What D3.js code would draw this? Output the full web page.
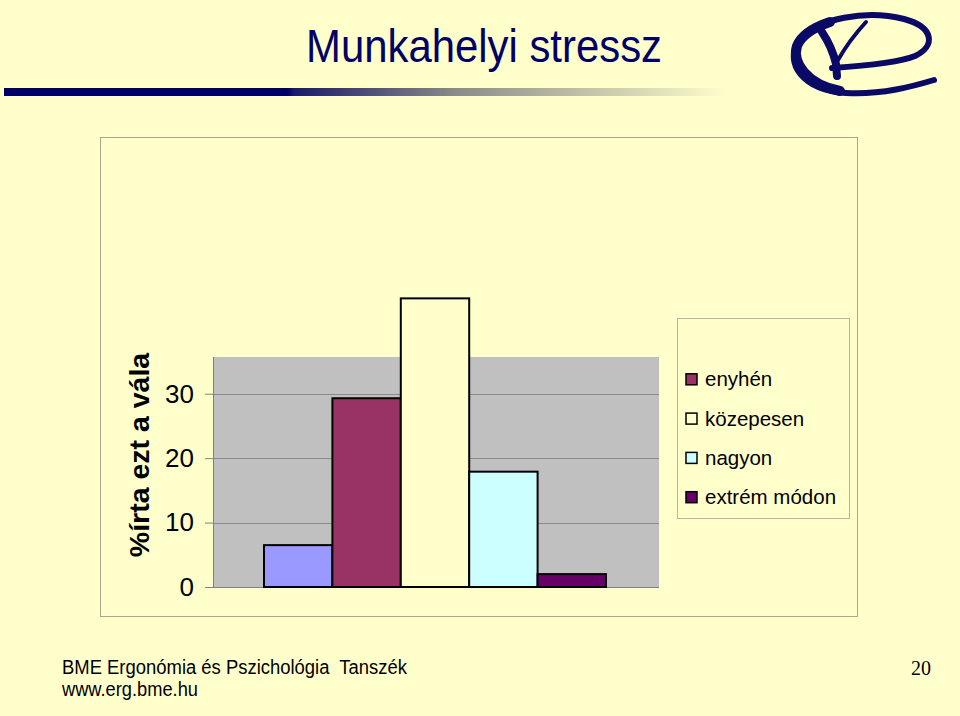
<!DOCTYPE html>
<html><head><meta charset="utf-8">
<script src="https://cdn.jsdelivr.net/npm/d3@7/dist/d3.min.js"></script>
<style>
html,body{margin:0;padding:0;background:#FFFFCC;}
svg{display:block;}
text{font-family:"Liberation Sans",Arial,sans-serif;}
</style></head>
<body>
<script>
// ---- data ----
const seriesNames = ["", "enyhén", "közepesen", "nagyon", "extrém módon"];
const seriesValues = [6.5, 29.3, 44.8, 17.9, 2.0];
const seriesColors = ["#9999FF", "#993366", "#FFFFCC", "#CCFFFF", "#660066"];
const yTicks = [0, 10, 20, 30];
const yMax = 35.7;
const titleText = "Munkahelyi stressz";
const yAxisTitle = "%írta ezt a vála";
const footer1 = "BME Ergonómia és Pszichológia  Tanszék";
const footer2 = "www.erg.bme.hu";
const pageNo = "20";

const W = 960, H = 716;
const svg = d3.select("body").append("svg").attr("width", W).attr("height", H);
svg.append("rect").attr("width", W).attr("height", H).attr("fill", "#FFFFCC");

// header gradient bar
const defs = svg.append("defs");
const grad = defs.append("linearGradient").attr("id", "hbar").attr("x1", "0").attr("x2", "1").attr("y1", "0").attr("y2", "0");
grad.append("stop").attr("offset", "0").attr("stop-color", "#000066");
grad.append("stop").attr("offset", "0.39").attr("stop-color", "#000066");
grad.append("stop").attr("offset", "0.40").attr("stop-color", "#1a1a6a");
grad.append("stop").attr("offset", "0.62").attr("stop-color", "#8a8a88");
grad.append("stop").attr("offset", "1").attr("stop-color", "#FFFFCC");
svg.append("rect").attr("x", 4).attr("y", 88).attr("width", 726).attr("height", 8).attr("fill", "url(#hbar)");

// title
svg.append("text").attr("x", 306).attr("y", 62).attr("font-size", 46)
  .attr("textLength", 356).attr("lengthAdjust", "spacingAndGlyphs")
  .attr("fill", "#000066").text(titleText);

// logo
const logo = svg.append("g").attr("fill", "none").attr("stroke", "#0a0a66").attr("stroke-linecap", "round");
logo.append("path").attr("stroke-width", 6)
  .attr("d", "M832,68 C862,66 898,63 915,56 C936,46 934,27 904,19 C868,10 816,17 798,42 C785,63 802,90 846,93 C882,95 914,86 934,80");
logo.append("path").attr("stroke-width", 10)
  .attr("d", "M830,22 C812,28 801,36 797,46 C792,62 806,84 840,91");
logo.append("path").attr("stroke-width", 8)
  .attr("d", "M822,32 C830,44 834,55 836,64 L837,76");
logo.append("path").attr("stroke-width", 4)
  .attr("d", "M866,22 C855,34 846,46 838,60");

// chart area border
svg.append("rect").attr("x", 100.5).attr("y", 137.5).attr("width", 757).attr("height", 479)
  .attr("fill", "none").attr("stroke", "#a8a890").attr("stroke-width", 1);

// plot area
const px0 = 213, px1 = 659, py0 = 357, py1 = 587;
const y = d3.scaleLinear().domain([0, yMax]).range([py1, py0]);
const x = d3.scaleBand().domain(seriesNames.map((d, i) => i)).range([264, 606]).padding(0);

svg.append("rect").attr("x", px0).attr("y", py0).attr("width", px1 - px0).attr("height", py1 - py0).attr("fill", "#C0C0C0");

// gridlines
svg.append("g").selectAll("line").data(yTicks.filter(d => d > 0)).join("line")
  .attr("x1", px0).attr("x2", px1).attr("y1", d => Math.round(y(d)) + 0.5).attr("y2", d => Math.round(y(d)) + 0.5)
  .attr("stroke", "#8a8a8a").attr("stroke-width", 1);

// y axis
const yAxis = d3.axisLeft(y).tickValues(yTicks).tickSize(8).tickPadding(11).tickFormat(d3.format("d"));
const ag = svg.append("g").attr("transform", `translate(${px0},0)`).call(yAxis);
ag.select(".domain").attr("stroke", "#808080").attr("d", `M0.5,${py0}V${py1}`);
ag.selectAll(".tick line").attr("stroke", "#808080");
ag.selectAll(".tick text").attr("font-size", 26).attr("font-family", "Liberation Sans, Arial, sans-serif").attr("fill", "#000");

// bottom axis line
svg.append("line").attr("x1", px0 - 8).attr("x2", px1).attr("y1", py1 + 0.5).attr("y2", py1 + 0.5)
  .attr("stroke", "#808080").attr("stroke-width", 1.2);

// bars
svg.append("g").selectAll("rect").data(seriesValues).join("rect")
  .attr("x", (d, i) => x(i)).attr("width", x.bandwidth())
  .attr("y", d => y(d)).attr("height", d => y(0) - y(d))
  .attr("fill", (d, i) => seriesColors[i]).attr("stroke", "#000").attr("stroke-width", 2);

// y axis title
svg.append("text").attr("transform", "translate(149,455) rotate(-90)")
  .attr("text-anchor", "middle").attr("font-size", 28.5).attr("font-weight", "bold")
  .attr("fill", "#000").text(yAxisTitle);

// legend
svg.append("rect").attr("x", 677.5).attr("y", 318.5).attr("width", 172).attr("height", 200)
  .attr("fill", "none").attr("stroke", "#b8b8a0").attr("stroke-width", 1);
const lg = svg.append("g").selectAll("g").data(seriesNames.map((n, i) => ({n, i}))).join("g")
  .attr("transform", d => `translate(0,${340 + d.i * 39.3})`);
lg.filter(d => d.n !== "").append("rect").attr("x", 686).attr("y", -5.5).attr("width", 11).attr("height", 11)
  .attr("fill", d => seriesColors[d.i]).attr("stroke", "#000").attr("stroke-width", 1.5);
lg.filter(d => d.n !== "").append("text").attr("x", 705).attr("y", 7).attr("font-size", 20.5)
  .attr("fill", "#000").text(d => d.n);

// footer
svg.append("text").attr("x", 62).attr("y", 674).attr("font-size", 20).attr("style", "white-space:pre")
  .attr("textLength", 345).attr("lengthAdjust", "spacingAndGlyphs").attr("fill", "#000").text(footer1);
svg.append("text").attr("x", 62).attr("y", 696).attr("font-size", 20)
  .attr("textLength", 136).attr("lengthAdjust", "spacingAndGlyphs").attr("fill", "#000").text(footer2);
svg.append("text").attr("x", 931).attr("y", 675).attr("text-anchor", "end").attr("font-size", 20)
  .attr("style", "font-family:'Liberation Serif',serif")
  .attr("fill", "#000").text(pageNo);
</script>
</body></html>
